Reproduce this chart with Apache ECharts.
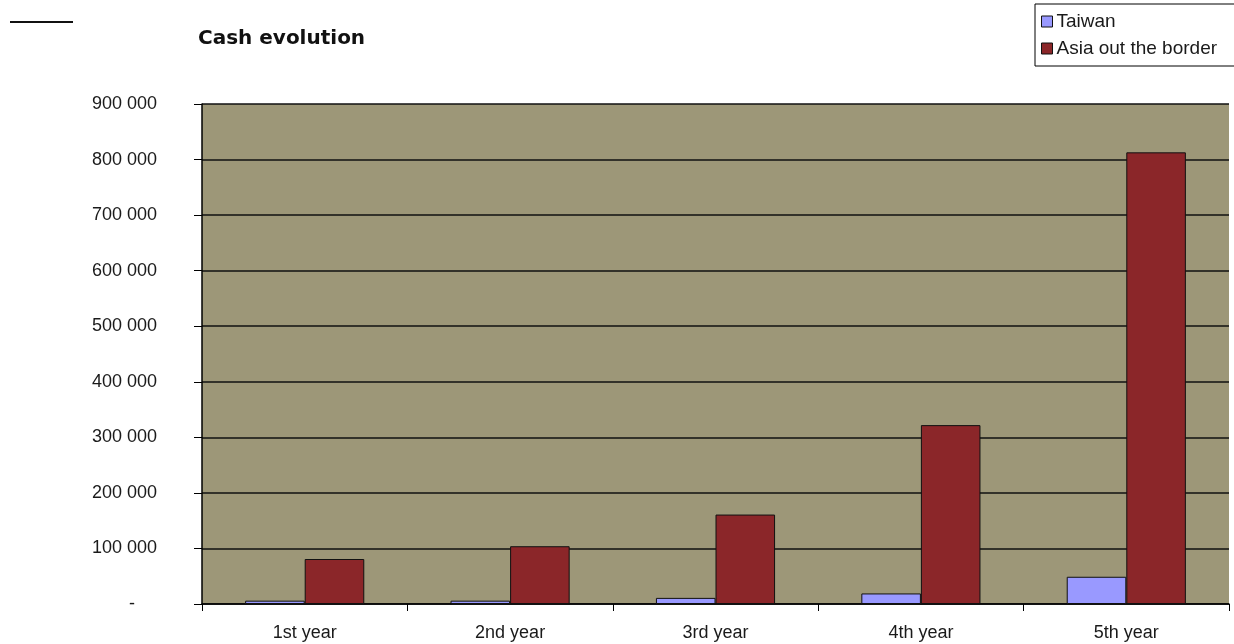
<!DOCTYPE html>
<html>
<head>
<meta charset="utf-8">
<style>
  html, body { margin: 0; padding: 0; background: #ffffff; }
  #chart { width: 1234px; height: 644px; }
</style>
<script src="https://cdn.jsdelivr.net/npm/echarts@6/dist/echarts.min.js"></script>
</head>
<body>
<div id="chart"></div>
<script>
// Cash per year, by region
const categories = ['1st year', '2nd year', '3rd year', '4th year', '5th year'];
const taiwan = [6000, 6000, 11000, 19000, 49000];
const asiaOutTheBorder = [81000, 104000, 161000, 322000, 813000];
const yTicks = [0, 100000, 200000, 300000, 400000, 500000, 600000, 700000, 800000, 900000];

const chart = echarts.init(document.getElementById('chart'));

function formatThousands(v) {
  if (v === 0) return '{dash|-}';
  return String(v).replace(/\B(?=(\d{3})+(?!\d))/g, ' ');
}

const font = 'Liberation Sans, Arial, sans-serif';

chart.setOption({
  animation: false,
  backgroundColor: '#ffffff',
  textStyle: { fontFamily: font },
  title: {
    text: 'Cash evolution',
    left: 193,
    top: 24,
    textStyle: { fontSize: 20, fontWeight: 'bold', color: '#111111', fontFamily: 'DejaVu Sans, sans-serif' }
  },
  legend: {
    orient: 'vertical',
    left: 1035,
    top: 4,
    itemWidth: 11,
    itemHeight: 11,
    itemGap: 8,
    padding: [8, 40, 8, 6],
    borderColor: '#000000',
    borderWidth: 1,
    backgroundColor: '#ffffff',
    borderRadius: 0,
    icon: 'rect',
    itemStyle: { borderColor: '#111111', borderWidth: 1 },
    textStyle: { fontSize: 19, color: '#1a1a1a', fontFamily: font, padding: [0, 0, 0, -1] },
    data: ['Taiwan', 'Asia out the border']
  },
  graphic: [{
    type: 'line',
    shape: { x1: 10, y1: 22, x2: 73, y2: 22 },
    style: { stroke: '#111111', lineWidth: 2 }
  }],
  grid: {
    left: 202,
    right: 5,
    top: 104,
    bottom: 40,
    show: true,
    backgroundColor: '#9d9778',
    borderWidth: 0
  },
  xAxis: {
    type: 'category',
    data: categories,
    boundaryGap: true,
    axisLine: { lineStyle: { color: '#000000', width: 1.5 } },
    axisTick: { show: true, alignWithLabel: false, length: 7, lineStyle: { color: '#000000' } },
    axisLabel: { fontSize: 18, color: '#1a1a1a', margin: 20, fontFamily: font }
  },
  yAxis: {
    type: 'value',
    min: 0,
    max: 900000,
    interval: 100000,
    axisLine: { show: true, lineStyle: { color: '#000000', width: 1.5 } },
    axisTick: { show: true, length: 8, lineStyle: { color: '#000000' } },
    splitLine: { show: true, lineStyle: { color: '#111111', width: 1.5 } },
    axisLabel: {
      fontSize: 18,
      color: '#1a1a1a',
      margin: 45,
      fontFamily: font,
      formatter: v => yTicks.includes(v) ? formatThousands(v) : '',
      rich: { dash: { fontSize: 18, color: '#1a1a1a', padding: [0, 22, 0, 0] } }
    }
  },
  series: [
    {
      name: 'Taiwan',
      type: 'bar',
      data: taiwan,
      barGap: '0%',
      barCategoryGap: '42%',
      itemStyle: { color: '#9999ff', borderColor: '#111111', borderWidth: 1 }
    },
    {
      name: 'Asia out the border',
      type: 'bar',
      data: asiaOutTheBorder,
      barGap: '0%',
      barCategoryGap: '42%',
      itemStyle: { color: '#8b2629', borderColor: '#111111', borderWidth: 1 }
    }
  ]
});
</script>
</body>
</html>
